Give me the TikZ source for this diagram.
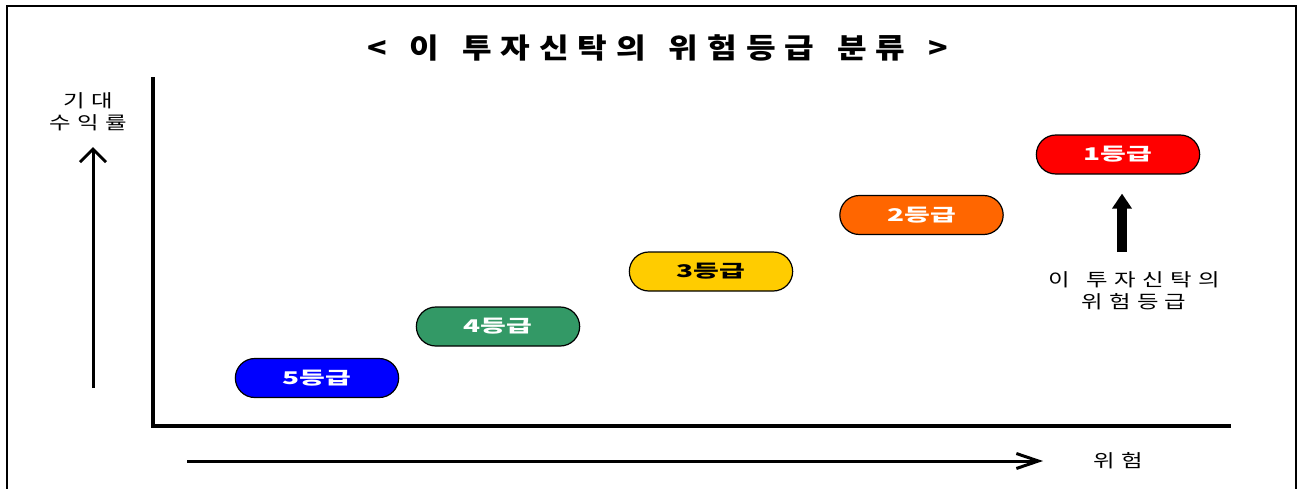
\documentclass[tikz,border=0pt]{standalone}
\usepackage{fontspec}
\setmainfont{Noto Sans CJK KR}
\newfontfamily\krtitle[FakeStretch=1.15,LetterSpace=32,WordSpace=1.4]{Noto Sans CJK KR}
\newfontfamily\krlabel[FakeStretch=1.3,LetterSpace=35,WordSpace=1.5]{Noto Sans CJK KR}
\newfontfamily\krpill[FakeStretch=1.6]{Noto Sans CJK KR}
\usetikzlibrary{arrows.meta,positioning,shapes.misc}
\definecolor{grA}{RGB}{255,0,0}
\definecolor{grB}{RGB}{255,102,0}
\definecolor{grC}{RGB}{255,204,0}
\definecolor{grD}{RGB}{51,153,102}
\definecolor{grE}{RGB}{0,0,255}

\begin{document}
\begin{tikzpicture}[x=1pt,y=-1pt,>=Stealth]
\tikzstyle{pill}=[rounded rectangle,draw,line width=1.2pt,minimum width=170pt,minimum height=39pt,font=\krpill\fontsize{17.5}{17.5}\selectfont\bfseries]
\tikzstyle{lab}=[align=center,font=\krlabel\fontsize{18}{21.5}\selectfont,inner sep=0pt]
\useasboundingbox (0,0) rectangle (1303,488);
\draw[line width=1.5pt] (7,6) rectangle (1296,500);
% title
\node[font=\krtitle\fontsize{28}{28}\selectfont\bfseries] (title) at (657.5,48) {< 이 투자신탁의 위험등급 분류 >};
% axes
\coordinate (o) at (153,426);
\coordinate (ytop) at (153,77);
\coordinate (xend) at (1231,426);
\draw[line width=4pt] (ytop) -- (o) -- (xend);
% axis labels and arrows
\node[lab] (ret) at (88,112) {기대\\수익률};
\node[lab] (risk) at (1118,461) {위험};
\coordinate (ya) at (93,388);
\coordinate (xa) at (187,461);
\draw[line width=3pt,-{Straight Barb[length=13pt,width=26pt]}] (ya) -- (93,147);
\draw[line width=3pt,-{Straight Barb[length=22pt,width=15pt]}] (xa) -- (1043,461);
% grades
\foreach \i/\c/\t/\x/\y in {5/grE/white/317/378,4/grD/white/498/326.5,3/grC/black/711/271.5,2/grB/white/921.5/215,1/grA/white/1118/154.5} { \node[pill,fill=\c,text=\t] (g\i) at (\x,\y) {{\i}등급}; }
% this fund
\node[lab] (fund) at (1134,291) {이 투자신탁의\\위험등급};
\coordinate (mk) at (1122,252);
\draw[line width=10pt,-{Triangle[length=15pt,width=19pt]},shorten >=19pt] (mk) -- (mk |- g1.south);
\end{tikzpicture}
\end{document}
